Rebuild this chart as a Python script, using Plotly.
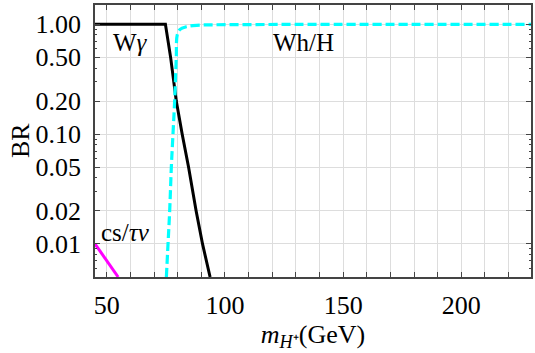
import math
import plotly.graph_objects as go

# Data
wg_x = [45, 74.8, 77.0, 79.4, 81.9, 84.6, 87.8, 90.5, 93.7]
wg_y = [1.0, 1.0, 0.5, 0.2, 0.1, 0.05, 0.02, 0.01, 0.005]

wh_x = [75.2, 75.9, 76.6, 77.3, 78.0, 78.7, 79.4, 79.8, 81.0, 83.6, 88.0, 95.0, 230.0]
wh_y = [0.005, 0.01, 0.02, 0.05, 0.1, 0.2, 0.5, 0.8, 0.9, 0.95, 0.98, 0.99, 1.0]

cs_x = [45, 54.8]
cs_y = [0.01, 0.005]

x_ticks = list(range(50, 230, 10))
x_labels = [str(v) if v in (50, 100, 150, 200) else "" for v in x_ticks]
y_ticks = [0.01, 0.02, 0.05, 0.1, 0.2, 0.5, 1.0]
y_labels = ["0.01", "0.02", "0.05", "0.10", "0.20", "0.50", "1.00"]
y_minor = [0.006, 0.007, 0.008, 0.009, 0.03, 0.04, 0.06, 0.07, 0.08, 0.09,
           0.3, 0.4, 0.6, 0.7, 0.8, 0.9]

FONT = "Liberation Serif"
TICKFONT = dict(family=FONT, size=26, color="black")

fig = go.Figure()
fig.add_trace(go.Scatter(x=cs_x, y=cs_y, mode="lines",
                         line=dict(color="#ff00ff", width=3)))
fig.add_trace(go.Scatter(x=wg_x, y=wg_y, mode="lines",
                         line=dict(color="black", width=3)))
fig.add_trace(go.Scatter(x=wh_x, y=wh_y, mode="lines", line_shape="spline",
                         line=dict(color="#00ffff", width=3.2, dash="9px,4px")))

fig.update_layout(
    width=535, height=353,
    margin=dict(l=95, r=2, t=5, b=76),
    paper_bgcolor="white", plot_bgcolor="white",
    showlegend=False,
    font=dict(family=FONT, size=24, color="black"),
)
fig.update_xaxes(range=[45, 229.5], tickmode="array", tickvals=x_ticks, ticktext=x_labels,
                 tickfont=TICKFONT, ticklabelstandoff=4,
                 showgrid=True, gridcolor="#dddddd", gridwidth=1,
                 ticks="inside", ticklen=5, tickcolor="#444",
                 showline=True, linecolor="#444", linewidth=1.5, mirror="ticks",
                 zeroline=False,
                 title=dict(text="<i>m</i><sub><i>H</i>⁺</sub>(GeV)", standoff=0,
                            font=dict(family=FONT, size=26)))
fig.update_yaxes(type="log", range=[-2.301, 0.176], tickmode="array",
                 tickvals=y_ticks, ticktext=y_labels, tickfont=TICKFONT,
                 ticklabelstandoff=7,
                 minor=dict(tickmode="array", tickvals=y_minor, ticks="inside",
                            ticklen=2.5, tickcolor="#444", showgrid=False),
                 showgrid=True, gridcolor="#dddddd", gridwidth=1,
                 ticks="inside", ticklen=5, tickcolor="#444",
                 showline=True, linecolor="#444", linewidth=1.5, mirror="ticks",
                 zeroline=False)

fig.add_annotation(x=-0.172, y=0.5, xref="paper", yref="paper", text="BR",
                   xanchor="center", yanchor="middle",
                   textangle=-90, showarrow=False, font=dict(family=FONT, size=26))
fig.add_annotation(x=60, y=math.log10(0.69), text="W<i>γ</i>", showarrow=False,
                   font=dict(family=FONT, size=25), xref="x", yref="y")
fig.add_annotation(x=133.4, y=math.log10(0.69), text="Wh/H", showarrow=False,
                   font=dict(family=FONT, size=25), xref="x", yref="y")
fig.add_annotation(x=58, y=math.log10(0.0126), text="cs/<i>τν</i>", showarrow=False,
                   font=dict(family=FONT, size=25), xref="x", yref="y")

fig.write_html("out.html")
